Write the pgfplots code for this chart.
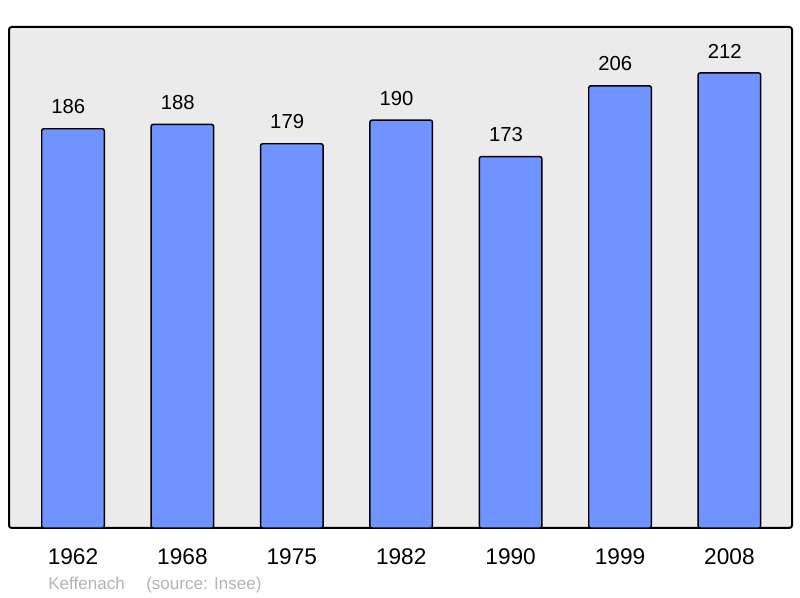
\documentclass[border=0pt]{standalone}
\usepackage{fontspec}
\setmainfont{Liberation Sans}
\usepackage{pgfplots}
\pgfplotsset{compat=1.18}
\definecolor{barblue}{HTML}{7094FF}
\definecolor{bggrey}{HTML}{EBEBEB}
\definecolor{srcgrey}{HTML}{B4B4B4}
\begin{document}
\begin{tikzpicture}
\useasboundingbox (0,0) rectangle (600pt,448.5pt);
\begin{axis}[
    at={(6.75pt,52.5pt)}, anchor=south west,
    scale only axis,
    width=587.25pt, height=375.75pt,
    xmin=-0.585, xmax=6.572,
    ymin=0, ymax=233.4,
    axis background/.style={fill=bggrey},
    axis line style={line width=1.5pt, rounded corners=2pt},
    ytick=\empty,
    xtick=data,
    xticklabels={1962,1968,1975,1982,1990,1999,2008},
    major tick length=0pt,
    xticklabel style={anchor=north, inner sep=0pt, yshift=-15pt, font=\fontsize{17}{17}\selectfont},
    /pgf/number format/assume math mode=true,
    ybar, bar width=46.9pt,
    nodes near coords,
    every node near coord/.append style={anchor=south, inner sep=0pt, xshift=-3.5pt, yshift=10.5pt, font=\fontsize{15.2}{15.2}\selectfont, black},
]
\addplot[fill=barblue, draw=black, line width=1.1pt, rounded corners=1.5pt]
  coordinates {(0,186) (1,188) (2,179) (3,190) (4,173) (5,206) (6,212)};
\end{axis}
\node[anchor=base west, inner sep=0pt, text=srcgrey, font=\fontsize{12.8}{12.8}\selectfont] at (36pt,6pt) {Keffenach};
\node[anchor=base west, inner sep=0pt, text=srcgrey, font=\fontsize{12.8}{12.8}\selectfont] at (109.5pt,6pt) {(source: Insee)};
\end{tikzpicture}
\end{document}
